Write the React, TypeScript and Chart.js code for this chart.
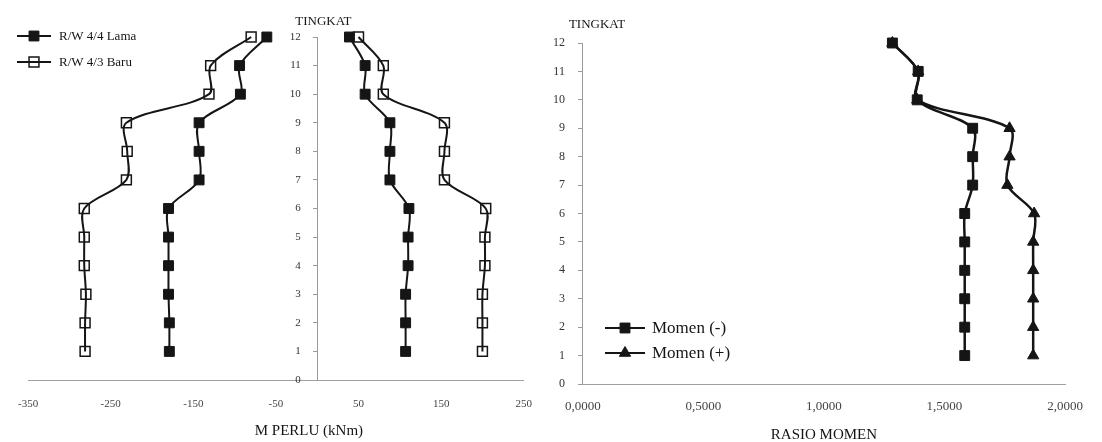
import React, { useEffect, useRef } from 'react';
import { Chart, registerables } from 'chart.js';

Chart.register(...registerables);

// ---------- data ----------
const levels = [12, 11, 10, 9, 8, 7, 6, 5, 4, 3, 2, 1];
const yTicks = [0, 1, 2, 3, 4, 5, 6, 7, 8, 9, 10, 11, 12];

// Left chart: M PERLU (kNm)
const lamaNeg = [-61, -94, -93, -143, -143, -143, -180, -180, -180, -180, -179, -179];
const lamaPos = [39, 58, 58, 88, 88, 88, 111, 110, 110, 107, 107, 107];
const baruNeg = [-80, -129, -131, -231, -230, -231, -282, -282, -282, -280, -281, -281];
const baruPos = [50, 80, 80, 154, 154, 154, 204, 203, 203, 200, 200, 200];
const leftXTicks = [-350, -250, -150, -50, 50, 150, 250];

// Right chart: RASIO MOMEN
const rasioNeg = [1.284, 1.391, 1.387, 1.617, 1.617, 1.617, 1.584, 1.584, 1.584, 1.584, 1.584, 1.584];
const rasioPos = [1.284, 1.391, 1.387, 1.77, 1.77, 1.761, 1.872, 1.868, 1.868, 1.868, 1.868, 1.868];
const rightXTicks = [0, 0.5, 1, 1.5, 2];

const labelLama = 'R/W 4/4 Lama';
const labelBaru = 'R/W 4/3 Baru';
const labelNeg = 'Momen (-)';
const labelPos = 'Momen (+)';

// ---------- helpers ----------
const FONT = "'Liberation Serif', 'Times New Roman', serif";
const INK = '#151515';

function pts(xs: number[], ys: number[]) {
  return xs.map((x, i) => ({ x, y: ys[i] }));
}

function drawMarker(ctx: CanvasRenderingContext2D, style: string, x: number, y: number, r: number, fill: string, stroke: string, bw: number) {
  ctx.save();
  ctx.beginPath();
  if (style === 'triangle') {
    let rad = 0;
    ctx.moveTo(x + Math.sin(rad) * r, y - Math.cos(rad) * r);
    rad += (2 * Math.PI) / 3;
    ctx.lineTo(x + Math.sin(rad) * r, y - Math.cos(rad) * r);
    rad += (2 * Math.PI) / 3;
    ctx.lineTo(x + Math.sin(rad) * r, y - Math.cos(rad) * r);
    ctx.closePath();
  } else {
    const s = Math.SQRT1_2 * r;
    ctx.rect(x - s, y - s, 2 * s, 2 * s);
  }
  ctx.fillStyle = fill;
  ctx.fill();
  ctx.lineWidth = bw;
  ctx.strokeStyle = stroke;
  ctx.stroke();
  ctx.restore();
}

const overlayPlugin = {
  id: 'overlay',
  afterDraw(chart: any, _args: any, opts: any) {
    const ctx: CanvasRenderingContext2D = chart.ctx;
    const area = chart.chartArea;
    const axisX = chart.scales.x.getPixelForValue(opts.yAxisAt);
    ctx.save();
    ctx.fillStyle = INK;
    ctx.textBaseline = 'middle';
    // caption above the vertical axis
    ctx.font = `13px ${FONT}`;
    ctx.textAlign = 'left';
    ctx.fillText(opts.yCaption, axisX + opts.yCaptionDx, opts.yCaptionY);
    // horizontal axis title
    ctx.font = `15px ${FONT}`;
    ctx.textAlign = 'center';
    ctx.fillText(opts.xTitle, (area.left + area.right) / 2 + opts.xTitleDx, opts.xTitleY);
    // legend (line + marker samples)
    const seen = new Set<string>();
    let row = 0;
    chart.data.datasets.forEach((ds: any) => {
      if (seen.has(ds.label)) return;
      seen.add(ds.label);
      const y = opts.legendY + row * opts.legendGap;
      ctx.strokeStyle = ds.borderColor;
      ctx.lineWidth = opts.legendLineWidth;
      ctx.beginPath();
      ctx.moveTo(opts.legendX, y);
      ctx.lineTo(opts.legendX + opts.legendLen, y);
      ctx.stroke();
      drawMarker(ctx, ds.pointStyle, opts.legendX + opts.legendLen / 2, y, ds.pointRadius,
        ds.pointBackgroundColor, ds.pointBorderColor, ds.pointBorderWidth);
      ctx.fillStyle = INK;
      ctx.font = `${opts.legendFont}px ${FONT}`;
      ctx.textAlign = 'left';
      ctx.fillText(ds.label, opts.legendX + opts.legendLen + opts.legendTextGap, y + 1);
      row++;
    });
    ctx.restore();
  },
};

function series(label: string, xs: number[], style: string, open: boolean, lineWidth: number, radius: number) {
  return {
    label,
    data: pts(xs, levels),
    showLine: true,
    tension: 0.33,
    borderColor: INK,
    borderWidth: lineWidth,
    backgroundColor: INK,
    pointStyle: style,
    pointRadius: radius,
    pointHoverRadius: radius,
    pointBackgroundColor: open ? 'rgba(255,255,255,0)' : INK,
    pointBorderColor: INK,
    pointBorderWidth: open ? 1.5 : 1,
    clip: false,
  };
}

function yScale(size: number) {
  return {
    type: 'linear',
    position: { x: 0 },
    min: 0,
    max: 12,
    afterBuildTicks: (s: any) => { s.ticks = yTicks.map((v) => ({ value: v })); },
    grid: { display: true, drawOnChartArea: false, drawTicks: true, tickLength: 4, tickColor: '#9a9a9a' },
    border: { display: true, color: '#9a9a9a', width: 1, dash: [1, 3] },
    ticks: { font: { family: FONT, size }, color: '#333', padding: 4, callback: (v: any) => String(v) + '\u2003\u2002' },
  };
}

function leftConfig(): any {
  return {
    type: 'scatter',
    data: {
      datasets: [
        series(labelLama, lamaNeg, 'rect', false, 2, 7),
        series(labelLama, lamaPos, 'rect', false, 2, 7),
        series(labelBaru, baruNeg, 'rect', true, 2, 7),
        series(labelBaru, baruPos, 'rect', true, 2, 7),
      ],
    },
    options: {
      responsive: false,
      animation: false,
      events: [],
      layout: { padding: { left: 20, right: 26, top: 37, bottom: 0 } },
      plugins: {
        legend: { display: false },
        tooltip: { enabled: false },
        overlay: {
          yAxisAt: 0, yCaption: 'TINGKAT', yCaptionDx: -22, yCaptionY: 22,
          xTitle: 'M PERLU (kNm)', xTitleDx: 33, xTitleY: 431,
          legendX: 17, legendLen: 34, legendTextGap: 8, legendY: 36, legendGap: 26,
          legendFont: 13, legendLineWidth: 2,
        },
      },
      scales: {
        x: {
          type: 'linear',
          min: -350,
          max: 250,
          afterBuildTicks: (s: any) => { s.ticks = leftXTicks.map((v) => ({ value: v })); },
          afterFit: (s: any) => { s.height = 62; },
          grid: { display: true, drawOnChartArea: false, drawTicks: false },
          border: { display: true, color: '#a0a0a0', width: 1, dash: [3, 3] },
          ticks: { font: { family: FONT, size: 11 }, color: '#444', padding: 18, maxRotation: 0, callback: (v: any) => String(v) },
        },
        y: yScale(11),
      },
    },
    plugins: [overlayPlugin],
  };
}

function rightConfig(): any {
  return {
    type: 'scatter',
    data: {
      datasets: [
        series(labelNeg, rasioNeg, 'rect', false, 2.5, 7),
        series(labelPos, rasioPos, 'triangle', false, 2.5, 6.5),
      ],
    },
    options: {
      responsive: false,
      animation: false,
      events: [],
      layout: { padding: { left: 29, right: 37, top: 43, bottom: 0 } },
      plugins: {
        legend: { display: false },
        tooltip: { enabled: false },
        overlay: {
          yAxisAt: 0, yCaption: 'TINGKAT', yCaptionDx: -14, yCaptionY: 25,
          xTitle: 'RASIO MOMEN', xTitleDx: 0, xTitleY: 435,
          legendX: 55, legendLen: 40, legendTextGap: 7, legendY: 328, legendGap: 25,
          legendFont: 17, legendLineWidth: 2,
        },
      },
      scales: {
        x: {
          type: 'linear',
          min: 0,
          max: 2,
          afterBuildTicks: (s: any) => { s.ticks = rightXTicks.map((v) => ({ value: v })); },
          afterFit: (s: any) => { s.height = 58; },
          grid: { display: true, drawOnChartArea: false, drawTicks: false },
          border: { display: true, color: '#a0a0a0', width: 1, dash: [3, 3] },
          ticks: { font: { family: FONT, size: 13 }, color: '#444', padding: 15, maxRotation: 0, callback: (v: any) => Number(v).toFixed(4).replace('.', ',') },
        },
        y: yScale(12),
      },
    },
    plugins: [overlayPlugin],
  };
}

function ChartCanvas({ make, left, width }: { make: () => any; left: number; width: number }) {
  const ref = useRef<HTMLCanvasElement>(null);
  useEffect(() => {
    const chart = new Chart(ref.current as HTMLCanvasElement, make());
    return () => chart.destroy();
  }, []);
  return (
    <canvas
      ref={ref}
      width={width}
      height={442}
      style={{ position: 'absolute', left, top: 0, width, height: 442, display: 'block' }}
    />
  );
}

export default function App() {
  return (
    <div style={{ position: 'absolute', left: 0, top: 0, width: 1102, height: 442, background: '#fff', overflow: 'hidden' }}>
      <ChartCanvas make={leftConfig} left={0} width={550} />
      <ChartCanvas make={rightConfig} left={550} width={552} />
    </div>
  );
}
